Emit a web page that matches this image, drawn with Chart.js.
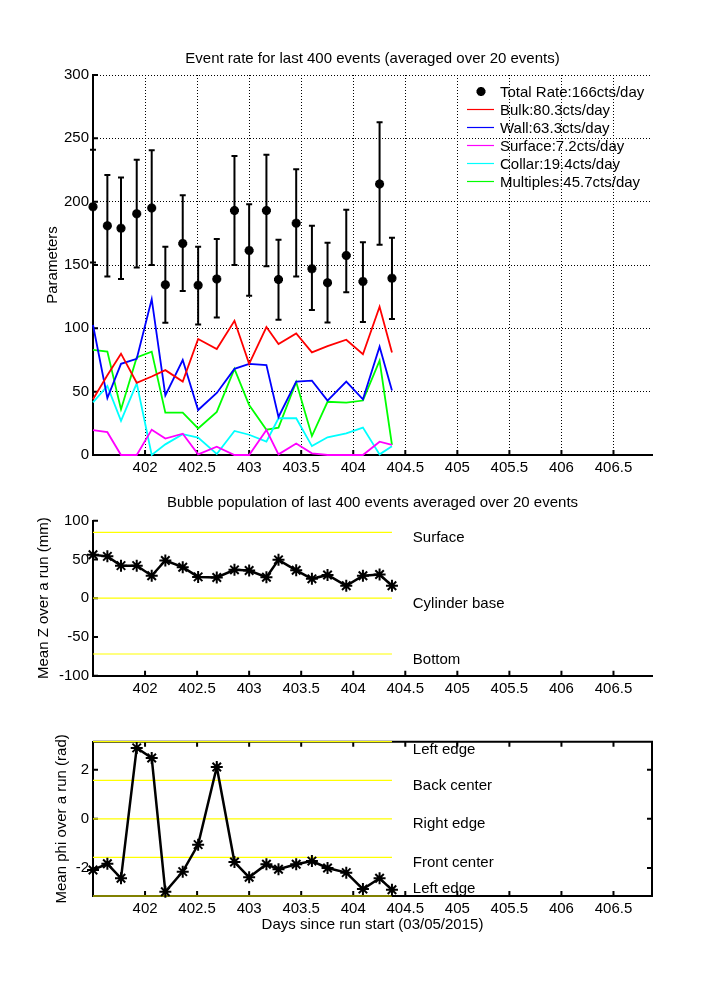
<!DOCTYPE html>
<html>
<head>
<meta charset="utf-8">
<script src="https://cdn.jsdelivr.net/npm/chart.js@4.4.1/dist/chart.umd.min.js"></script>
<style>
body{margin:0;background:#fff;}
#wrap{position:relative;width:720px;height:1008px;}
canvas{position:absolute;left:0;}
</style>
</head>
<body>
<div id="wrap">
<canvas id="rateChart" width="720" height="490" style="top:0px"></canvas>
<canvas id="zChart" width="720" height="225" style="top:490px"></canvas>
<canvas id="phiChart" width="720" height="293" style="top:715px"></canvas>
</div>
<script>
//Data
var days = [401.5,401.638,401.769,401.920,402.064,402.195,402.362,402.510,402.689,402.859,403.0,403.166,403.282,403.452,403.603,403.753,403.933,404.093,404.253,404.372];
var totalRate = [196,181,179,190.5,195,134.5,167,134,139,193,161.5,193,138.5,183,147,136,157.5,137,214,139.5];
var rateLow = [152,141,139,148,150,104.5,129.5,103,108.5,150,125.8,149,106.8,141,114.5,104.7,128.4,105,166,107.4];
var rateHigh = [241,221,219,233,240.5,164.5,205,164.5,170.5,236,198,237,170,225.5,181,167.6,193.7,168,262.6,171.5];
var bulk = [44,63,80,57,62,67,58,91.6,83.7,106,72,101,87.6,96,81,86,91,79.5,117,81];
var wall = [102.6,45,72,76,123,47,75,35.5,49,68,72,71,30,58,58.7,43,58,44,85.5,51];
var surface = [19.7,18,0,0,20,13,16.8,0.5,6.6,0,0,19.7,0.5,9,1.3,0,0,0,10.5,8];
var collar = [41.6,54.5,27,56.6,0,8.4,16.5,13.7,0.8,19,16,10.5,29,29,7,14,17,21.6,0.5,7];
var multiples = [83,81.6,36,77,81.6,33.4,33.4,21,34,68,39.5,20,21.6,57.6,15,42,41.3,43,74.5,8];
var rateLabels = ["Total Rate:166cts/day","Bulk:80.3cts/day","Wall:63.3cts/day","Surface:7.2cts/day","Collar:19.4cts/day","Multiples:45.7cts/day"];
var meanZ = [56,54,42,42,29,48.6,40,27.5,26.7,36.6,35.7,27,49.5,36,25,30,16,29,30.5,16];
var meanPhi = [-2.08,-1.83,-2.42,2.89,2.48,-2.97,-2.15,-1.05,2.11,-1.76,-2.38,-1.85,-2.05,-1.85,-1.72,-2.0,-2.19,-2.86,-2.42,-2.89];
var zLines = [85,0,-72];
var zNames = ["Surface","Cylinder base","Bottom"];
var phiLines = [Math.PI,Math.PI/2,0,-Math.PI/2,-Math.PI];
var phiNames = ["Left edge","Back center","Right edge","Front center","Left edge"];
var xTicks = [402,402.5,403,403.5,404,404.5,405,405.5,406,406.5];
var rateTicks = [0,50,100,150,200,250,300];
var zTicks = [-100,-50,0,50,100];
var phiTicks = [-2,0,2];
var xMin = 401.5, xMax = 406.87;

var FONT = "'Liberation Sans', Arial, Helvetica, sans-serif";
Chart.defaults.font.family = FONT;
Chart.defaults.font.size = 15;
Chart.defaults.color = '#000';

function pts(ys){
	return ys.map(function(v,i){return {x:days[i],y:v};});
}
function hLine(v){
	return [{x:days[0],y:v},{x:days[days.length-1],y:v}];
}
function setTicks(list){
	return function(s){s.ticks = list.map(function(v){return {value:v};});};
}

//Plugins
var frame = {
	id:'frame',
	beforeDatasetsDraw:function(chart,args,o){
		var ctx = chart.ctx, a = chart.chartArea, xs = chart.scales.x, ys = chart.scales.y;
		ctx.save();
		ctx.strokeStyle = '#000';
		ctx.lineWidth = 2;
		ctx.beginPath();
		xs.ticks.forEach(function(t){
			var px = xs.getPixelForValue(t.value);
			ctx.moveTo(px,a.bottom);ctx.lineTo(px,a.bottom-5);
			if(o.box){ctx.moveTo(px,a.top);ctx.lineTo(px,a.top+5);}
		});
		ys.ticks.forEach(function(t){
			var py = ys.getPixelForValue(t.value);
			ctx.moveTo(a.left,py);ctx.lineTo(a.left+5,py);
			if(o.box){ctx.moveTo(a.right,py);ctx.lineTo(a.right-5,py);}
		});
		if(o.box){
			ctx.moveTo(a.left,a.top);ctx.lineTo(a.right,a.top);ctx.lineTo(a.right,a.bottom);
		}
		ctx.stroke();
		ctx.restore();
	}
};
var errorBars = {
	id:'errorBars',
	afterDatasetsDraw:function(chart,args,o){
		if(!o || !o.low) return;
		var ctx = chart.ctx, xs = chart.scales.x, ys = chart.scales.y;
		ctx.save();
		ctx.strokeStyle = '#000';
		ctx.lineWidth = 2;
		ctx.beginPath();
		for(var i=0;i<o.x.length;i++){
			var px = xs.getPixelForValue(o.x[i]);
			var lo = ys.getPixelForValue(o.low[i]), hi = ys.getPixelForValue(o.high[i]);
			ctx.moveTo(px,lo);ctx.lineTo(px,hi);
			ctx.moveTo(px-3,lo);ctx.lineTo(px+3,lo);
			ctx.moveTo(px-3,hi);ctx.lineTo(px+3,hi);
		}
		ctx.stroke();
		ctx.restore();
	}
};
var rateLegend = {
	id:'rateLegend',
	afterDraw:function(chart){
		var ctx = chart.ctx;
		ctx.save();
		ctx.font = "15px " + FONT;
		ctx.textBaseline = 'middle';
		ctx.textAlign = 'left';
		chart.data.datasets.forEach(function(ds,i){
			var y = 91.5 + i*18;
			if(ds.showLine === false){
				ctx.strokeStyle = '#000';ctx.fillStyle = '#000';ctx.lineWidth = 3;
				if(Chart.helpers && Chart.helpers.drawPoint){
					Chart.helpers.drawPoint(ctx,{pointStyle:'star',radius:4.5,borderWidth:3,rotation:0},481,y);
				}
			}else{
				ctx.strokeStyle = ds.borderColor;ctx.lineWidth = 1.2;
				ctx.beginPath();ctx.moveTo(467,y);ctx.lineTo(494,y);ctx.stroke();
			}
			ctx.fillStyle = '#000';
			ctx.fillText(ds.label,500,y+1);
		});
		ctx.restore();
	}
};
var refLabels = {
	id:'refLabels',
	afterDraw:function(chart,args,o){
		if(!o || !o.values) return;
		var ctx = chart.ctx, a = chart.chartArea, xs = chart.scales.x, ys = chart.scales.y;
		var px = xs.getPixelForValue(days[days.length-1]+0.2);
		ctx.save();
		ctx.font = "15px " + FONT;
		ctx.fillStyle = '#000';
		ctx.textBaseline = 'middle';
		ctx.textAlign = 'left';
		o.values.forEach(function(v,i){
			var py = ys.getPixelForValue(v)+5.5;
			py = Math.max(a.top+8,Math.min(a.bottom-7,py));
			ctx.fillText(o.names[i],px,py);
		});
		ctx.restore();
	}
};

function xAxis(h,grid,title){
	return {
		type:'linear',min:xMin,max:xMax,
		afterBuildTicks:setTicks(xTicks),
		afterFit:function(s){s.height = h;},
		grid:grid ? {display:true,color:'#000',lineWidth:1,drawTicks:false,borderDash:[1,2]} : {display:false,drawTicks:false},
		border:{display:true,color:'#000',width:2,dash:[1,2]},
		ticks:{padding:4,maxRotation:0,autoSkip:false,callback:function(v){return String(v);}},
		title:title ? {display:true,text:title,padding:{top:0,bottom:74}} : {display:false}
	};
}
function yAxis(min,max,list,grid,title,tpad){
	return {
		type:'linear',min:min,max:max,
		afterBuildTicks:setTicks(list),
		afterFit:function(s){s.width = 93;},
		grid:grid ? {display:true,color:'#000',lineWidth:1,drawTicks:false,borderDash:[1,2]} : {display:false,drawTicks:false},
		border:{display:true,color:'#000',width:2,dash:[1,2]},
		ticks:{padding:4,autoSkip:false},
		title:{display:true,text:title,padding:{top:tpad,bottom:0}}
	};
}
function lineSet(label,ys,color){
	return {label:label,data:pts(ys),borderColor:color,backgroundColor:color,borderWidth:1.8,pointRadius:0,tension:0,clip:false};
}

//Event rate
new Chart(document.getElementById('rateChart'),{
	type:'line',
	data:{datasets:[
		{label:rateLabels[0],data:pts(totalRate),showLine:false,pointStyle:'star',pointRadius:4.5,pointBorderWidth:3,borderColor:'#000',backgroundColor:'#000',clip:false},
		lineSet(rateLabels[1],bulk,'#ff0000'),
		lineSet(rateLabels[2],wall,'#0000ff'),
		lineSet(rateLabels[3],surface,'#ff00ff'),
		lineSet(rateLabels[4],collar,'#00ffff'),
		lineSet(rateLabels[5],multiples,'#00ff00')
	]},
	options:{
		responsive:false,animation:false,
		layout:{padding:{left:0,right:68,top:0,bottom:0}},
		plugins:{
			legend:{display:false},tooltip:{enabled:false},
			title:{display:true,fullSize:false,text:'Event rate for last 400 events (averaged over 20 events)',font:{size:15,weight:'normal'},padding:{top:50,bottom:7}},
			frame:{box:false},
			errorBars:{x:days,low:rateLow,high:rateHigh}
		},
		scales:{x:xAxis(35,true,null),y:yAxis(0,300,rateTicks,true,'Parameters',43.7)}
	},
	plugins:[frame,errorBars,rateLegend]
});

//Mean Z
var zSets = zLines.map(function(v){
	return {data:hLine(v),borderColor:'#ffff00',borderWidth:1.2,pointRadius:0,clip:false};
});
zSets.unshift({data:pts(meanZ),borderColor:'#000',backgroundColor:'#000',borderWidth:2.5,pointStyle:'star',pointRadius:6,pointBorderWidth:2,tension:0,clip:false});
new Chart(document.getElementById('zChart'),{
	type:'line',
	data:{datasets:zSets},
	options:{
		responsive:false,animation:false,
		layout:{padding:{left:0,right:68,top:0,bottom:0}},
		plugins:{
			legend:{display:false},tooltip:{enabled:false},
			title:{display:true,fullSize:false,text:'Bubble population of last 400 events averaged over 20 events',font:{size:15,weight:'normal'},padding:{top:4,bottom:8.7}},
			frame:{box:false},
			refLabels:{values:zLines,names:zNames}
		},
		scales:{x:xAxis(39.3,false,null),y:yAxis(-100,100,zTicks,false,'Mean Z over a run (mm)',35)}
	},
	plugins:[frame,refLabels]
});

//Mean phi
var phiSets = phiLines.map(function(v){
	return {data:hLine(v),borderColor:'#ffff00',borderWidth:1.2,pointRadius:0,clip:false};
});
phiSets.unshift({data:pts(meanPhi),borderColor:'#000',backgroundColor:'#000',borderWidth:2.5,pointStyle:'star',pointRadius:6,pointBorderWidth:2,tension:0,clip:false});
new Chart(document.getElementById('phiChart'),{
	type:'line',
	data:{datasets:phiSets},
	options:{
		responsive:false,animation:false,
		layout:{padding:{left:0,right:68,top:26.7,bottom:0}},
		plugins:{
			legend:{display:false},tooltip:{enabled:false},
			frame:{box:true},
			refLabels:{values:phiLines,names:phiNames}
		},
		scales:{x:xAxis(112,false,'Days since run start (03/05/2015)'),y:yAxis(-Math.PI,Math.PI,phiTicks,false,'Mean phi over a run (rad)',52.7)}
	},
	plugins:[frame,refLabels]
});
</script>
</body>
</html>
